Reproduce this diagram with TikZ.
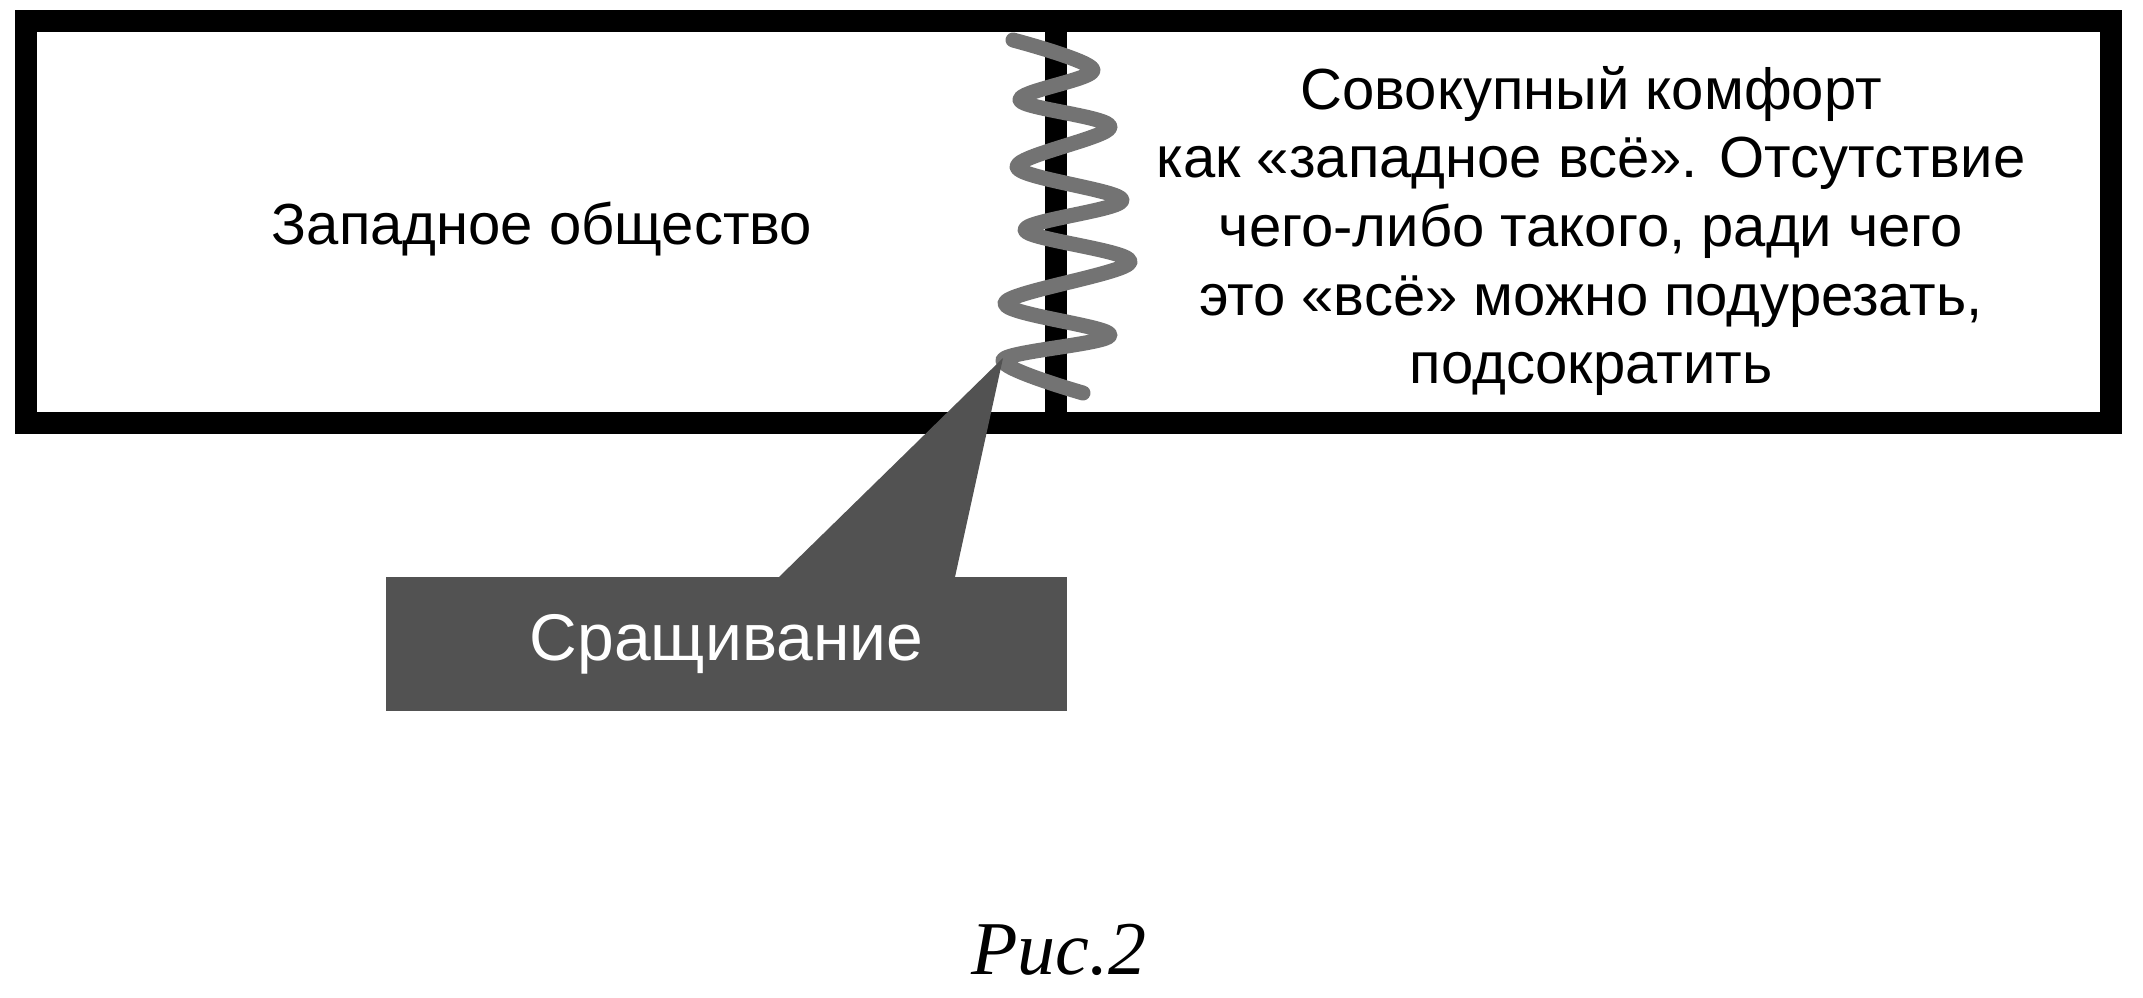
\documentclass[tikz,border=0pt]{standalone}
\usepackage{fontspec}
\setmainfont{Liberation Sans}
\newfontfamily\capserif{Liberation Serif}
\begin{document}
\begin{tikzpicture}[x=0.5pt,y=-0.5pt,
  frame/.style={line width=11pt, draw=black},
  divider/.style={line width=11pt, draw=black},
  springline/.style={line width=7.5pt, draw=black!55, line cap=round, line join=round},
  callout/.style={fill=black!68, draw=none},
  calloutbox/.style={fill=black!68, draw=none, minimum width=340.5pt, minimum height=67pt, inner sep=0pt,
     text=white, font=\fontsize{33}{38}\selectfont},
  bodytext/.style={font=\fontsize{29}{34.3}\selectfont, align=center, inner sep=0pt},
  captiontext/.style={font=\capserif\itshape\fontsize{38}{42}\selectfont, inner sep=0pt}]
\useasboundingbox (0,0) rectangle (2143,997);
% outer frame and divider
\draw[frame] (26,21) rectangle (2111,423);
\coordinate (divtop) at (1056,21);
\coordinate (divbot) at (1056,423);
\draw[divider] (divtop) -- (divbot);
% texts
\node[bodytext] (west) at (542,229) {Западное общество};
\node[bodytext] (east) at (1591,231) {Совокупный комфорт\\как «западное всё». Отсутствие\\чего-либо такого, ради чего\\это «всё» можно подурезать,\\подсократить};
% spring
\draw[springline] plot[smooth, tension=0.55] coordinates {
  (1013,40) (1093,70) (1020,100) (1110,127) (1017,167) (1122,200)
  (1025,230) (1130,262) (1005,303) (1110,335) (1003,360) (1083,393)};
% callout
\node[calloutbox] (splice) at (726.5,644) {Сращивание};
\coordinate (apex) at (1003,358);
\coordinate (baseL) at (779,577);
\coordinate (baseR) at (955,577);
\fill[callout] (apex) -- (baseL) -- (baseR) -- cycle;
% caption
\node[captiontext] (fig) at (1059,950) {Рис.2};
\end{tikzpicture}
\end{document}
